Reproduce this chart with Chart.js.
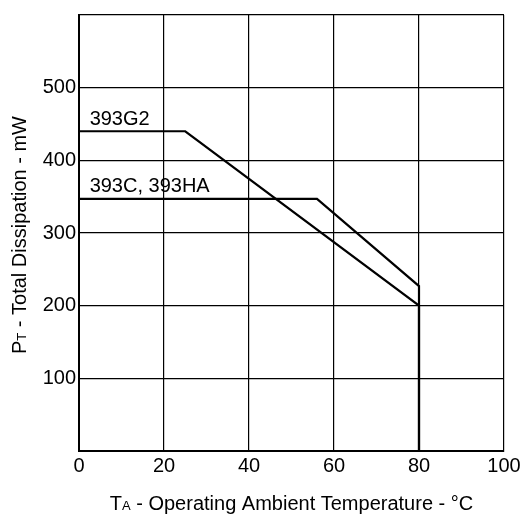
<!DOCTYPE html>
<html><head><meta charset="utf-8">
<script src="https://cdn.jsdelivr.net/npm/chart.js@4"></script>
<style>html,body{margin:0;padding:0;background:#fff}#wrap{width:531px;height:521px}</style>
</head><body><div id="wrap"><canvas id="c"></canvas></div>
<script>
const seriesNames = ['393G2', '393C, 393HA'];
const g2X = [0, 25, 80, 80];
const g2Y = [440, 440, 200, 0];
const cX = [0, 56, 80, 80];
const cY = [347, 347, 227, 0];
const labelX = [2.5, 2.5];
const labelY = [448, 357];
const xTicks = [0, 20, 40, 60, 80, 100];
const yTicks = [100, 200, 300, 400, 500];

const FONT = 'Liberation Sans, Arial, sans-serif';
const toPts = (xs, ys) => xs.map((x, i) => ({x, y: ys[i]}));

const overlay = {
  id: 'overlay',
  afterDraw(chart) {
    const ctx = chart.ctx, xs = chart.scales.x, ys = chart.scales.y;
    ctx.save();
    ctx.fillStyle = '#000';
    ctx.textBaseline = 'alphabetic';
    ctx.textAlign = 'left';
    ctx.font = '20px ' + FONT;
    seriesNames.forEach((n, i) => ctx.fillText(n, xs.getPixelForValue(labelX[i]), ys.getPixelForValue(labelY[i])));
    const drawSub = (parts, cx, cy) => {
      let w = 0;
      parts.forEach(p => { ctx.font = p[1] + 'px ' + FONT; w += ctx.measureText(p[0]).width; });
      let x = cx - w / 2;
      parts.forEach(p => { ctx.font = p[1] + 'px ' + FONT; ctx.fillText(p[0], x, cy); x += ctx.measureText(p[0]).width; });
    };
    const xc = (chart.chartArea.left + chart.chartArea.right) / 2;
    drawSub([['T', 20], ['A', 13], [' - Operating Ambient Temperature - °C', 20]], xc, 510);
    ctx.translate(26, 235);
    ctx.rotate(-Math.PI / 2);
    drawSub([['P', 20], ['T', 13], [' - Total Dissipation - mW', 20]], 0, 0);
    ctx.restore();
  }
};

new Chart(document.getElementById('c'), {
  type: 'line',
  data: {
    datasets: [
      {label: seriesNames[0], data: toPts(g2X, g2Y), borderColor: '#000', borderWidth: 2.2, pointRadius: 0, fill: false, tension: 0},
      {label: seriesNames[1], data: toPts(cX, cY), borderColor: '#000', borderWidth: 2.2, pointRadius: 0, fill: false, tension: 0}
    ]
  },
  plugins: [overlay],
  options: {
    responsive: true, maintainAspectRatio: false, animation: false,
    layout: {padding: {top: 7, right: 27, left: 0, bottom: 0}},
    plugins: {legend: {display: false}, tooltip: {enabled: false}},
    scales: {
      x: {
        type: 'linear', min: 0, max: 100,
        afterBuildTicks: s => { s.ticks = xTicks.map(v => ({value: v})); },
        afterFit: s => { s.height = 70; },
        ticks: {color: '#000', font: {family: FONT, size: 20}, padding: 3, maxRotation: 0},
        grid: {color: '#000', lineWidth: 1.2, drawTicks: false},
        border: {color: '#000', width: 2}
      },
      y: {
        type: 'linear', min: 0, max: 600,
        afterBuildTicks: s => { s.ticks = [0, ...yTicks, 600].map(v => ({value: v})); },
        afterFit: s => { s.width = 79; },
        ticks: {color: '#000', font: {family: FONT, size: 20}, padding: 3,
          callback: v => yTicks.includes(v) ? String(v) : ''},
        grid: {color: '#000', lineWidth: 1.2, drawTicks: false},
        border: {color: '#000', width: 2}
      }
    }
  }
});
</script></body></html>
